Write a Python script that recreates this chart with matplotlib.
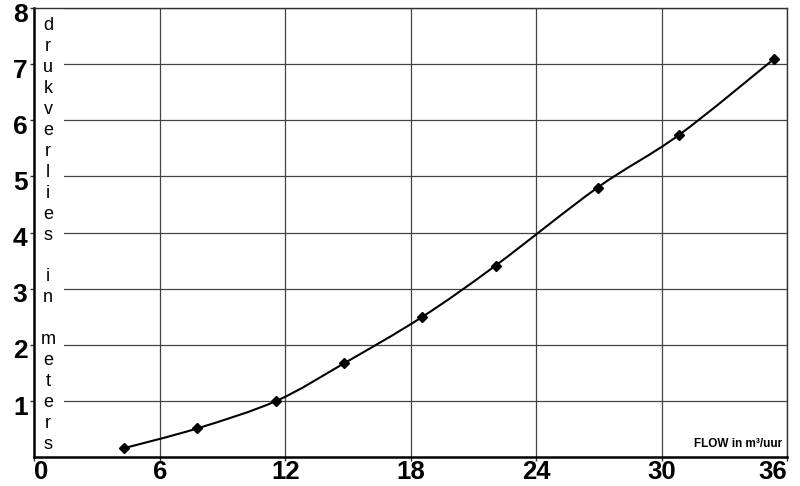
import numpy as np
import matplotlib.pyplot as plt
import matplotlib.transforms as mtransforms
from matplotlib.path import Path
from matplotlib.patches import PathPatch, Rectangle

plt.rcParams['font.family'] = ['Liberation Sans', 'DejaVu Sans']

flow = [4.26, 7.79, 11.57, 14.81, 18.52, 22.05, 26.93, 30.83, 35.36]
druk = [0.155, 0.51, 1.0, 1.67, 2.49, 3.41, 4.80, 5.74, 7.09]
xticks = [0, 6, 12, 18, 24, 30, 36]
yticks = [1, 2, 3, 4, 5, 6, 7, 8]
ylabel = "drukverlies in meters"
xlabel = "FLOW in m\u00b3/uur"

fig = plt.figure(figsize=(8, 4.86), dpi=100)
ax = fig.add_axes([0.0431, 0.0597, 0.9409, 0.9238])
ax.set_xlim(0, 36)
ax.set_ylim(0, 8)

ax.set_xticks(xticks)
ax.set_yticks(yticks)
ax.grid(True, color='#444444', linewidth=0.9)
ax.set_axisbelow(True)
ax.tick_params(direction='out', length=3, width=1, color='#333333')
ax.tick_params(axis='x', pad=-1)
ax.tick_params(axis='y', pad=2)
for lab in ax.get_xticklabels():
    lab.set_fontsize(18.5)
    lab.set_fontweight('bold')
shift = mtransforms.ScaledTranslation(0, -3 / 72, fig.dpi_scale_trans)
for lab in ax.get_yticklabels():
    lab.set_fontsize(19)
    lab.set_fontweight('bold')
    lab.set_transform(lab.get_transform() + shift)
xl = ax.get_xticklabels()
xl[0].set_ha('left')
xl[-1].set_ha('right')

for s in ['left', 'bottom']:
    ax.spines[s].set_linewidth(1.8)
    ax.spines[s].set_color('black')
for s in ['top', 'right']:
    ax.spines[s].set_linewidth(1.0)
    ax.spines[s].set_color('#333333')

# white column behind the vertical label
ax.add_patch(Rectangle((0, 0), 1.41, 8, facecolor='white', edgecolor='none', zorder=1))

# smooth line through the points (catmull-rom as bezier)
P = np.column_stack([flow, druk])
Pe = np.vstack([P[0], P, P[-1]])
verts = [tuple(P[0])]
codes = [Path.MOVETO]
for i in range(len(P) - 1):
    p0, p1, p2, p3 = Pe[i], Pe[i + 1], Pe[i + 2], Pe[i + 3]
    c1 = p1 + (p2 - p0) / 6
    c2 = p2 - (p3 - p1) / 6
    verts += [tuple(c1), tuple(c2), tuple(p2)]
    codes += [Path.CURVE4] * 3
ax.add_patch(PathPatch(Path(verts, codes), facecolor='none', edgecolor='black', lw=1.5, zorder=3))
ax.plot(flow, druk, linestyle='none', marker='D', markersize=5, color='black', zorder=4)

# vertical stacked letters
for i, ch in enumerate(ylabel):
    if ch == ' ':
        continue
    ypx = 31 + i * 20.9
    ax.text(0.65, (457 - ypx) / 56, ch, ha='center', va='baseline', fontsize=13, zorder=5)

ax.text(35.76, 0.18, xlabel, ha='right', va='baseline', fontsize=8.5, fontweight='bold', zorder=5)

fig.savefig('out.png', dpi=100)
